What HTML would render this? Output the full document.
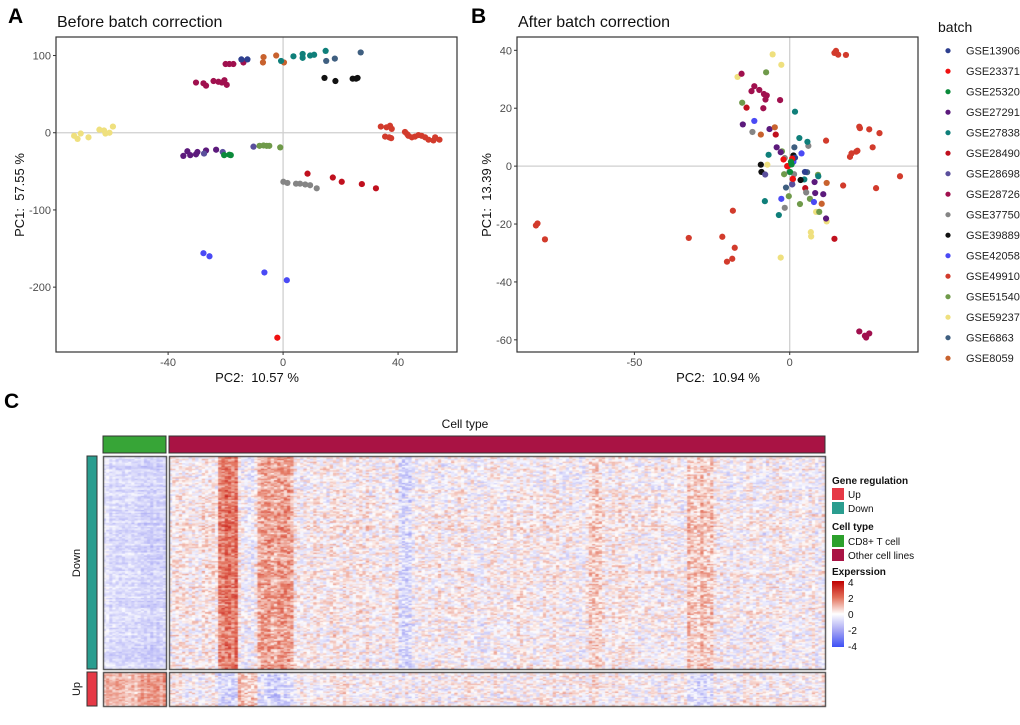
<!DOCTYPE html>
<html><head><meta charset="utf-8">
<style>
body{margin:0;background:#fff;width:1020px;height:711px;overflow:hidden;font-family:"Liberation Sans",Arial,sans-serif;}
#root{position:relative;width:1020px;height:711px;}
svg{position:absolute;left:0;top:0;}
svg text{white-space:pre;}
canvas{position:absolute;}
</style></head>
<body><div id="root">
<svg id="plots" width="1020" height="711">
 <text x="8" y="23" font-size="21" font-weight="bold">A</text>
 <text x="57" y="27" font-size="16" fill="#111">Before batch correction</text>
 <text x="471" y="23" font-size="21" font-weight="bold">B</text>
 <text x="518" y="27" font-size="16" fill="#111">After batch correction</text>
 <text x="4" y="408" font-size="21" font-weight="bold">C</text>
 <text x="257" y="382" font-size="13" text-anchor="middle" fill="#111">PC2:  10.57 %</text>
 <text transform="translate(24,195) rotate(-90)" font-size="13" text-anchor="middle" fill="#111">PC1:  57.55 %</text>
 <text x="718" y="382" font-size="13" text-anchor="middle" fill="#111">PC2:  10.94 %</text>
 <text transform="translate(491,195) rotate(-90)" font-size="13" text-anchor="middle" fill="#111">PC1:  13.39 %</text>
 <g id="gA"></g>
 <g id="gB"></g>
 <g id="legend">
  <text x="938" y="32" font-size="14" fill="#111">batch</text>
 </g>
 <text x="465" y="428" font-size="12" text-anchor="middle" fill="#111">Cell type</text>
 <rect x="103" y="436" width="63" height="17" fill="#2ca02c" fill-opacity="0.95" stroke="#333" stroke-width="1"/>
 <rect x="169" y="436" width="656" height="17" fill="#a91344" stroke="#333" stroke-width="1"/>
 <rect x="87" y="456" width="10" height="213" fill="#2a9d8f" stroke="#333" stroke-width="1"/>
 <rect x="87" y="672" width="10" height="34" fill="#e63946" stroke="#333" stroke-width="1"/>
 <text transform="translate(80,563) rotate(-90)" font-size="11" text-anchor="middle" fill="#111">Down</text>
 <text transform="translate(80,689) rotate(-90)" font-size="11" text-anchor="middle" fill="#111">Up</text>
 <g>
  <text x="832" y="484" font-size="10" font-weight="bold" fill="#111">Gene regulation</text>
  <rect x="832" y="488" width="12" height="12" fill="#e63946"/>
  <text x="848" y="498" font-size="10" fill="#111">Up</text>
  <rect x="832" y="502" width="12" height="12" fill="#2a9d8f"/>
  <text x="848" y="512" font-size="10" fill="#111">Down</text>
  <text x="832" y="530" font-size="10" font-weight="bold" fill="#111">Cell type</text>
  <rect x="832" y="535" width="12" height="12" fill="#2ca02c"/>
  <text x="848" y="545" font-size="10" fill="#111">CD8+ T cell</text>
  <rect x="832" y="549" width="12" height="12" fill="#a91344"/>
  <text x="848" y="559" font-size="10" fill="#111">Other cell lines</text>
  <text x="832" y="575" font-size="10" font-weight="bold" fill="#111">Experssion</text>
  <defs><linearGradient id="cg" x1="0" y1="0" x2="0" y2="1">
   <stop offset="0" stop-color="#c00000"/><stop offset="0.25" stop-color="#e2705a"/><stop offset="0.5" stop-color="#ffffff"/><stop offset="0.75" stop-color="#a6a6f4"/><stop offset="1" stop-color="#3d50f5"/></linearGradient></defs>
  <rect x="832" y="581" width="12" height="66" fill="url(#cg)"/>
  <text x="848" y="586" font-size="10" fill="#111">4</text>
  <text x="848" y="602" font-size="10" fill="#111">2</text>
  <text x="848" y="618" font-size="10" fill="#111">0</text>
  <text x="848" y="634" font-size="10" fill="#111">-2</text>
  <text x="848" y="650" font-size="10" fill="#111">-4</text>
 </g>
</svg>
<canvas id="hm" width="740" height="272" style="left:100px;top:453px"></canvas>
</div>
<script>
const batches=["GSE13906","GSE23371","GSE25320","GSE27291","GSE27838","GSE28490","GSE28698","GSE28726","GSE37750","GSE39889","GSE42058","GSE49910","GSE51540","GSE59237","GSE6863","GSE8059"];
const batchColors=["#2e3f8f","#f01010","#0b8a3a","#5c1a7c","#0f7f7a","#c0101e","#5a4f9c","#a0104e","#858585","#111111","#4a4af5","#d23b2c","#6f9a4a","#efe07e","#3f5f80","#c8622e"];
const pointsBefore=[
[13,-72.7,-4],[13,-71.5,-8],[13,-70.4,-1],[13,-67.7,-6],[13,-63.9,4],[13,-62.3,3],[13,-61.8,-1],[13,-60.4,0],[13,-59.2,8],
[7,-20,89],[7,-18.7,89],[7,-17.3,89],[7,-13.8,91],[7,-30.3,65],[7,-27.7,64],[7,-26.8,61],[7,-24.2,67],[7,-22.5,66],[7,-21.3,65],[7,-20.4,68],[7,-19.6,62],
[0,-14.5,95],[0,-12.4,95],
[15,-6.8,98],[15,-7,91],[15,-2.4,100],[15,0.3,91],
[4,-0.7,93],[4,3.6,99],[4,6.8,102],[4,6.8,97],[4,9.4,100],[4,10.8,101],[4,14.8,106],
[14,15,93],[14,18,96],[14,27,104],
[9,14.4,71],[9,18.2,67],[9,24.2,70],[9,25.4,70],[9,25.9,71],
[11,34,8],[11,36,7],[11,37.2,9],[11,37.8,5],[11,35.5,-5],[11,36.9,-6],[11,37.6,-7],[11,42.4,1],[11,43.2,-2],[11,43.6,-4],[11,44.8,-6],[11,45.9,-5],[11,47.1,-3],[11,48.2,-4],[11,49.4,-6],[11,50.6,-9],[11,52.3,-10],[11,52.9,-6],[11,54.4,-9],
[3,-34.7,-30],[3,-33.3,-24],[3,-32.3,-29],[3,-30.3,-28],[3,-29.8,-25],[3,-26.8,-23],[3,-23.3,-22],
[6,-27.5,-27],[6,-21,-25],[6,-10.3,-18],
[2,-20.5,-29],[2,-18.7,-28.5],[2,-18.2,-29],
[12,-8.2,-17],[12,-6.8,-16.5],[12,-5.7,-17],[12,-4.8,-17],[12,-1,-19],
[8,0.1,-63.5],[8,1.5,-65],[8,4.5,-66],[8,5.9,-66],[8,7.7,-67],[8,9.4,-68],[8,11.7,-72],
[5,8.5,-53],[5,17.3,-58],[5,20.4,-63.5],[5,27.4,-66.5],[5,32.3,-72],
[10,-27.7,-156],[10,-25.6,-160],[10,-6.5,-181],[10,1.3,-191],
[1,-2,-265.5]];
const pointsAfter=[
[11,14.4,39.1],[11,14.9,39.8],[11,15.6,38.5],[11,18.1,38.4],[11,22.4,13.6],[11,22.6,13.1],[11,25.6,12.7],[11,28.9,11.4],[11,26.7,6.5],[11,19.4,3.2],[11,19.9,4.4],[11,21.4,5],[11,21.8,5.3],[11,11.7,8.8],[11,17.2,-6.7],[11,27.8,-7.6],[11,35.5,-3.5],[11,-81.7,-20.5],[11,-81.2,-19.8],[11,-78.8,-25.3],[11,-32.5,-24.8],[11,-21.7,-24.4],[11,-17.7,-28.2],[11,-18.3,-15.4],[11,-20.2,-33],[11,-18.5,-32],
[13,-5.5,38.6],[13,-2.7,35],[13,-16.8,30.8],[13,-7.2,0.5],[13,-2.9,-31.6],[13,6.8,-22.8],[13,6.9,-24.3],[13,8.5,-15.8],[13,11.9,-19.1],
[7,-15.5,31.9],[7,-11.4,27.6],[7,-12.3,25.9],[7,-9.8,26.3],[7,-8.3,24.9],[7,-7.4,24.4],[7,-7.8,23],[7,-8.5,20],[7,-3.1,22.8],[7,22.4,-57.1],[7,24.6,-59.2],[7,25.6,-57.8],[7,24.2,-58.6],
[12,-7.6,32.4],[12,-15.3,21.9],[12,-2.5,5.1],[12,-1.8,-2.8],[12,-0.3,-10.4],[12,3.3,-13.1],[12,6.5,-11.3],[12,9.5,-15.8],[12,9.1,-3],
[5,-13.9,20.2],[5,-4.5,10.9],[5,-0.8,0],[5,5,-7.6],[5,14.4,-25.1],[5,1,-4.5],
[10,-11.4,15.6],[10,3.8,4.4],[10,-2.7,-11.3],[10,7.8,-12.4],[10,1.2,1.5],
[3,-15.1,14.4],[3,-6.5,12.8],[3,-4.2,6.5],[3,-2.9,4.8],[3,8,-5.5],[3,8.2,-9.3],[3,10.8,-9.7],[3,11.7,-18.1],
[8,-12,11.8],[8,6,7],[8,-1.6,2.8],[8,1.4,-2.8],[8,5.3,-9.1],[8,-1.6,-14.4],[8,-0.1,-2],
[15,-9.3,10.9],[15,-4.8,13.4],[15,11.9,-5.8],[15,10.3,-13],
[4,1.7,18.8],[4,3.1,9.7],[4,5.7,8.4],[4,-6.8,3.9],[4,4.7,-4.6],[4,9.2,-3.5],[4,-8,-12.1],[4,-3.5,-16.9],
[14,1.5,6.5],[14,-1.2,-7.4],[14,0.8,-6.3],[14,5.6,-2.1],
[9,1.2,3.7],[9,-9.3,0.5],[9,-9.1,-2],[9,3.5,-4.8],
[6,-7.9,-2.9],[6,0.8,-6.3],
[0,1.7,2.9],[0,4.9,-2],
[1,-2,2.3],[1,0.8,2.6],[1,1,-4.4],[1,-0.6,0],
[2,0.4,1.5],[2,0.6,0.6],[2,0.1,-2]];
const ticksAX=[-40,0,40], ticksAY=[100,0,-100,-200];
const ticksBX=[-50,0], ticksBY=[40,20,0,-20,-40,-60];

const NS="http://www.w3.org/2000/svg";
function mk(tag,attrs,parent){const e=document.createElementNS(NS,tag);for(const k in attrs)e.setAttribute(k,attrs[k]);parent.appendChild(e);return e;}
function panel(g,box,dom,pts,tx,ty,name){
  const sx=v=>box.x0+(v-dom.x0)/(dom.x1-dom.x0)*(box.x1-box.x0);
  const sy=v=>box.y1-(v-dom.y0)/(dom.y1-dom.y0)*(box.y1-box.y0);
  const l1=mk("line",{x1:sx(0),x2:sx(0),y1:box.y0,y2:box.y1,stroke:"#cfcfcf","stroke-width":1.3},g);
  
  const l2=mk("line",{x1:box.x0,x2:box.x1,y1:sy(0),y2:sy(0),stroke:"#cfcfcf","stroke-width":1.3},g);
  
  pts.forEach(p=>{const c=mk("circle",{cx:sx(p[1]),cy:sy(p[2]),r:3.1,fill:batchColors[p[0]]},g);
    
    });
  const fr=mk("rect",{x:box.x0,y:box.y0,width:box.x1-box.x0,height:box.y1-box.y0,fill:"none",stroke:"#333","stroke-width":1.2},g);
  
  tx.forEach(t=>{const x=sx(t);mk("line",{x1:x,x2:x,y1:box.y1,y2:box.y1+3,stroke:"#333"},g);
    const e=mk("text",{x:x,y:box.y1+14,"font-size":11,"text-anchor":"middle",fill:"#4d4d4d"},g);e.textContent=t;
    });
  ty.forEach(t=>{const y=sy(t);mk("line",{x1:box.x0-3,x2:box.x0,y1:y,y2:y,stroke:"#333"},g);
    const e=mk("text",{x:box.x0-5,y:y+4,"font-size":11,"text-anchor":"end",fill:"#4d4d4d"},g);e.textContent=t;
    });
}
panel(document.getElementById("gA"),{x0:56,x1:457,y0:37,y1:352},{x0:-79,x1:60.5,y0:-284,y1:124},pointsBefore,ticksAX,ticksAY,"plot-a");
panel(document.getElementById("gB"),{x0:517,x1:918,y0:37,y1:352},{x0:-87.8,x1:41.3,y0:-64.2,y1:44.6},pointsAfter,ticksBX,ticksBY,"plot-b");
const lg=document.getElementById("legend");
batches.forEach((b,i)=>{const y=50.7+i*20.5;
  const c=mk("circle",{cx:948,cy:y,r:2.6,fill:batchColors[i]},lg);
  
  const t=mk("text",{x:966,y:y+4,"font-size":11,fill:"#222"},lg);t.textContent=b;
  });

// Heatmap column-segment biases [startFrac,endFrac,downBias,upBias]
const cd8Segments=[[0,0.6,-0.7,1.0],[0.6,1,-1.0,1.4]];
const otherSegments=[[0,0.076,0.15,0],[0.076,0.104,2.0,-0.9],[0.104,0.133,-0.1,0.8],[0.133,0.19,1.4,-0.9],[0.19,0.352,0.1,0.05],[0.352,0.37,-0.9,0],[0.37,0.53,0.05,0],[0.53,0.59,0.05,0.05],[0.64,0.66,0.6,0.2],[0.66,0.79,0.05,0],[0.79,0.828,0.8,-0.7],[0.828,1,0,0]];
function hash(a,b){let h=(a*374761393+b*668265263)|0;h=(h^(h>>>13))*1274126177|0;return ((h^(h>>>16))>>>0)/4294967296;}
function col(v){v=Math.max(-4,Math.min(4,v));
  const st=[[-4,[61,80,245]],[-2,[160,160,244]],[0,[255,255,255]],[2,[228,118,96]],[4,[192,0,0]]];
  for(let i=0;i<4;i++){if(v<=st[i+1][0]){const t=(v-st[i][0])/2;const a=st[i][1],b=st[i+1][1];
    return "rgb("+a.map((x,k)=>Math.round(x+(b[k]-x)*t)).join(",")+")";}}return "rgb(192,0,0)";}
function biasOf(segs,f,k){for(const s of segs){if(f>=s[0]&&f<s[1])return s[k];}return 0;}
const cv=document.getElementById("hm"),ctx=cv.getContext("2d");
const OX=100,OY=453;
function block(x0,x1,y0,y1,ncol,nrow,segs,k,seed,amp){
  const cw=(x1-x0)/ncol,rh=(y1-y0)/nrow;
  for(let c=0;c<ncol;c++){const f=(c+0.5)/ncol;const b=biasOf(segs,f,k)+(hash(c,seed)-0.5)*0.5;
    for(let r=0;r<nrow;r++){const n=(hash(c*7+seed,r*13+1)-0.5)*amp+(hash(r,seed+5)-0.5)*0.6;
      ctx.fillStyle=col(b+n);ctx.fillRect(x0-OX+c*cw,y0-OY+r*rh,cw+0.5,rh+0.5);}}
  ctx.strokeStyle="#333";ctx.lineWidth=1.2;ctx.strokeRect(x0-OX+0.5,y0-OY+0.5,x1-x0,y1-y0);
}
block(103,166,456,669,20,150,cd8Segments,2,11,1.0);
block(169,825,456,669,200,150,otherSegments,2,23,2.0);
block(103,166,672,706,20,26,cd8Segments,3,37,1.4);
block(169,825,672,706,200,26,otherSegments,3,41,2.0);
</script>
</body></html>
